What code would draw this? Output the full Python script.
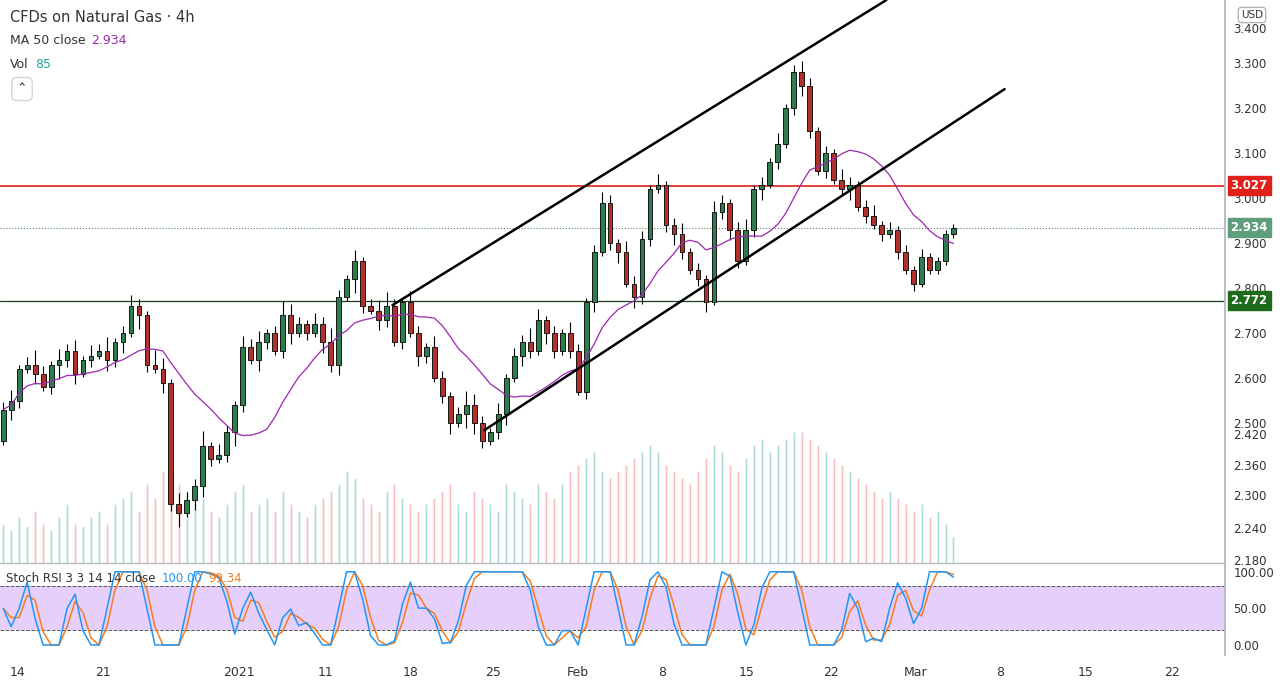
import numpy as np, pandas as pd, matplotlib
matplotlib.use("Agg")
import matplotlib.pyplot as plt, seaborn as sns
from matplotlib.patches import Rectangle

sns.set_theme(style="white")
plt.rcParams['font.family'] = ['DejaVu Sans']

closes = [2.53,2.55,2.62,2.63,2.61,2.58,2.63,2.64,2.66,2.61,2.64,2.65,2.66,2.64,2.68,2.70,2.76,2.74,2.63,2.62,
          2.59,2.32,2.30,2.33,2.36,2.45,2.42,2.43,2.48,2.54,2.67,2.64,2.68,2.70,2.66,2.74,2.70,2.72,2.70,2.72,
          2.68,2.63,2.78,2.82,2.86,2.76,2.75,2.73,2.76,2.68,2.77,2.70,2.65,2.67,2.60,2.56,2.50,2.52,2.54,2.50,
          2.46,2.48,2.52,2.60,2.65,2.68,2.66,2.73,2.70,2.66,2.70,2.66,2.57,2.77,2.88,2.99,2.90,2.88,2.81,2.78,
          2.91,3.02,3.03,2.94,2.92,2.88,2.84,2.82,2.77,2.97,2.99,2.93,2.86,2.93,3.02,3.03,3.08,3.12,3.20,3.28,
          3.25,3.15,3.06,3.10,3.04,3.02,3.03,2.98,2.96,2.94,2.92,2.93,2.88,2.84,2.81,2.87,2.84,2.86,2.92,2.934]
first_open = 2.46
wick_hi = ("2312421323" "1324123214" "3132241321" "3231243213" "2421312342" "1321321243"
           "2131224312" "1321232132" "2131231213" "2123121312" "3212132123" "1212121111")
wick_lo = ("1321312423" "1213231421" "3241332124" "2132123121" "3231421321" "2132123143"
           "2123132132" "1212312313" "2212321231" "2321231212" "3212123121" "2121211111")
volume = [30,25,35,28,40,30,25,35,45,30,28,35,40,30,45,50,55,40,60,50,
          70,75,60,55,45,50,40,35,45,55,60,40,45,50,40,55,45,40,35,45,
          50,55,60,70,65,50,45,40,55,60,50,45,40,45,50,55,60,45,40,55,
          50,45,40,60,55,50,45,60,55,50,60,70,75,80,85,70,65,70,75,80,
          85,90,85,75,70,65,60,70,80,90,85,75,70,80,90,95,85,90,95,100,
          100,95,90,85,80,75,70,65,60,55,50,55,50,45,40,45,35,40,30,20]
date_labels = ["14","21","2021","11","18","25","Feb","8","15","22","Mar","8","15","22"]
date_pos = [1.75,12.5,29.5,40.4,51,61.4,71.9,82.5,93.1,103.6,114.25,124.9,135.6,146.4]
price_ticks = [3.378,3.3,3.2,3.1,3.0,2.9,2.8,2.7,2.6,2.5,2.476,2.407,2.340,2.267,2.196]
price_labels = ["3.400","3.300","3.200","3.100","3.000","2.900","2.800","2.700","2.600","2.500",
                "2.420","2.360","2.300","2.240","2.180"]
upper_ch = ([48.75,110.6],[2.762,3.44])
lower_ch = ([60.25,125.4],[2.484,3.242])
res_level, sup_level, last = 3.027, 2.772, 2.934

n = len(closes)
idx = np.arange(n)
opens = [first_open] + closes[:-1]
highs = [max(o,c)+int(w)*0.008 for o,c,w in zip(opens,closes,wick_hi)]
lows = [min(o,c)-int(w)*0.008 for o,c,w in zip(opens,closes,wick_lo)]
up = [c>=o for o,c in zip(opens,closes)]

fig = plt.figure(figsize=(12.8,6.8), dpi=100)
W = 1225/1280
ax = fig.add_axes([0, 117/680, W, 563/680])
axr = fig.add_axes([0, 25/680, W, 92/680], sharex=ax)
xlim = (-0.4, 153)
ax.set_xlim(*xlim)
ax.set_ylim(2.189, 3.44)

axv = ax.twinx()
axv.set_ylim(0, 430)
vc = ['#26a69a' if u else '#ef5350' for u in up]
axv.bar(idx, volume, width=0.25, color=vc, alpha=0.45)
axv.set_yticks([]); axv.set_zorder(0); ax.set_zorder(1); ax.patch.set_visible(False)
for s in axv.spines.values(): s.set_visible(False)

for i in range(len(lows)):
    col = '#2e7d4f' if up[i] else '#b0302a'
    ax.vlines(i, lows[i], highs[i], color='black', lw=0.8, zorder=3)
    b = min(opens[i], closes[i]); h = max(abs(closes[i]-opens[i]), 0.003)
    ax.add_patch(Rectangle((i-0.3, b), 0.6, h, facecolor=col, edgecolor='black', lw=0.6, zorder=4))

ma = pd.Series(closes).rolling(13, min_periods=1).mean()
sns.lineplot(x=idx, y=ma.values, ax=ax, color='#9c27b0', lw=0.9, zorder=5)
ax.plot(*upper_ch, color='black', lw=1.8, zorder=6)
ax.plot(*lower_ch, color='black', lw=1.8, zorder=6)
ax.axhline(res_level, color='#e0201b', lw=1.2, zorder=2)
ax.axhline(sup_level, color='#1c3d1c', lw=0.9, zorder=2)
ax.axhline(last, color='#5a8a6e', lw=0.8, ls=':', zorder=2)

ax.yaxis.tick_right()
ax.set_yticks(price_ticks); ax.set_yticklabels(price_labels, fontsize=8.5, color='#333')
ax.tick_params(axis='y', length=0, pad=6)
ax.tick_params(axis='x', labelbottom=False, length=0)
for s in ['top','left','bottom']: ax.spines[s].set_visible(False)
ax.spines['right'].set_color('#b2b5be')
ax.grid(False)
for val, fc in [(res_level,'#e0201b'),(last,'#5e9e7c'),(sup_level,'#1e6b1e')]:
    ax.annotate(f"{val:.3f}", xy=(1.0, val), xycoords=('axes fraction','data'), xytext=(4,0),
                textcoords='offset points', va='center', ha='left', fontsize=8.5, color='white',
                fontweight='bold', bbox=dict(boxstyle='square,pad=0.25', fc=fc, ec=fc), annotation_clip=False)
fig.text(1252/1280, 1-15/680, "USD", fontsize=7.5, ha='center', va='center', color='#333',
         bbox=dict(boxstyle='round,pad=0.25', fc='white', ec='#b2b5be'))

renderer = fig.canvas.get_renderer()
def chain(x_px, y_px, parts, fs):
    x = x_px
    for txt, col in parts:
        t = fig.text(x/1280, 1-y_px/680, txt, fontsize=fs, color=col, va='center')
        x = t.get_window_extent(renderer).x1 + 6

fig.text(10/1280, 1-17/680, "CFDs on Natural Gas · 4h", fontsize=10.5, color='#333', va='center')
chain(10, 41, [("MA 50 close", '#333'), ("2.934", '#9c27b0')], 9)
chain(10, 65, [("Vol", '#333'), ("85", '#26a69a')], 9)
fig.text(22/1280, 1-89/680, "⌃", fontsize=9, color='#333', ha='center', va='center',
         bbox=dict(boxstyle='round,pad=0.4', fc='white', ec='#d1d4dc'))

s = pd.Series(closes)
d = s.diff()
g = d.clip(lower=0).rolling(4, min_periods=1).mean()
l = (-d.clip(upper=0)).rolling(4, min_periods=1).mean()
rsi = 100 - 100/(1 + g/(l+1e-9))
lo = rsi.rolling(4, min_periods=1).min(); hi = rsi.rolling(4, min_periods=1).max()
st = ((rsi-lo)/(hi-lo+1e-9)*100).fillna(50)
k = st.rolling(2, min_periods=1).mean(); dd = k.rolling(2, min_periods=1).mean()
axr.set_ylim(-13.7, 112)
axr.axhspan(20, 80, color='#e1c4fa', alpha=0.8, lw=0)
axr.axhline(80, color='#555', lw=0.7, ls='--'); axr.axhline(20, color='#555', lw=0.7, ls='--')
sns.lineplot(x=idx, y=dd.values, ax=axr, color='#f57c1f', lw=1.1)
sns.lineplot(x=idx, y=k.values, ax=axr, color='#2196f3', lw=1.1)
axr.yaxis.tick_right()
axr.set_yticks([0,50,100]); axr.set_yticklabels(["0.00","50.00","100.00"], fontsize=8.5, color='#333')
axr.tick_params(axis='y', length=0, pad=6)
axr.set_xticks(date_pos); axr.set_xticklabels(date_labels, fontsize=9, color='#333')
axr.tick_params(axis='x', length=0, pad=8)
for sp in ['top','left','bottom']: axr.spines[sp].set_visible(False)
axr.spines['right'].set_color('#b2b5be')
axr.plot([xlim[0], xlim[1]], [112,112], color='#b2b5be', lw=1, clip_on=False)
axr.set_xlim(*xlim)
chain(6, 579, [("Stoch RSI 3 3 14 14 close", '#333'), ("100.00", '#2196f3'), ("99.34", '#f57c1f')], 8.5)
fig.savefig("out.png", dpi=100)
